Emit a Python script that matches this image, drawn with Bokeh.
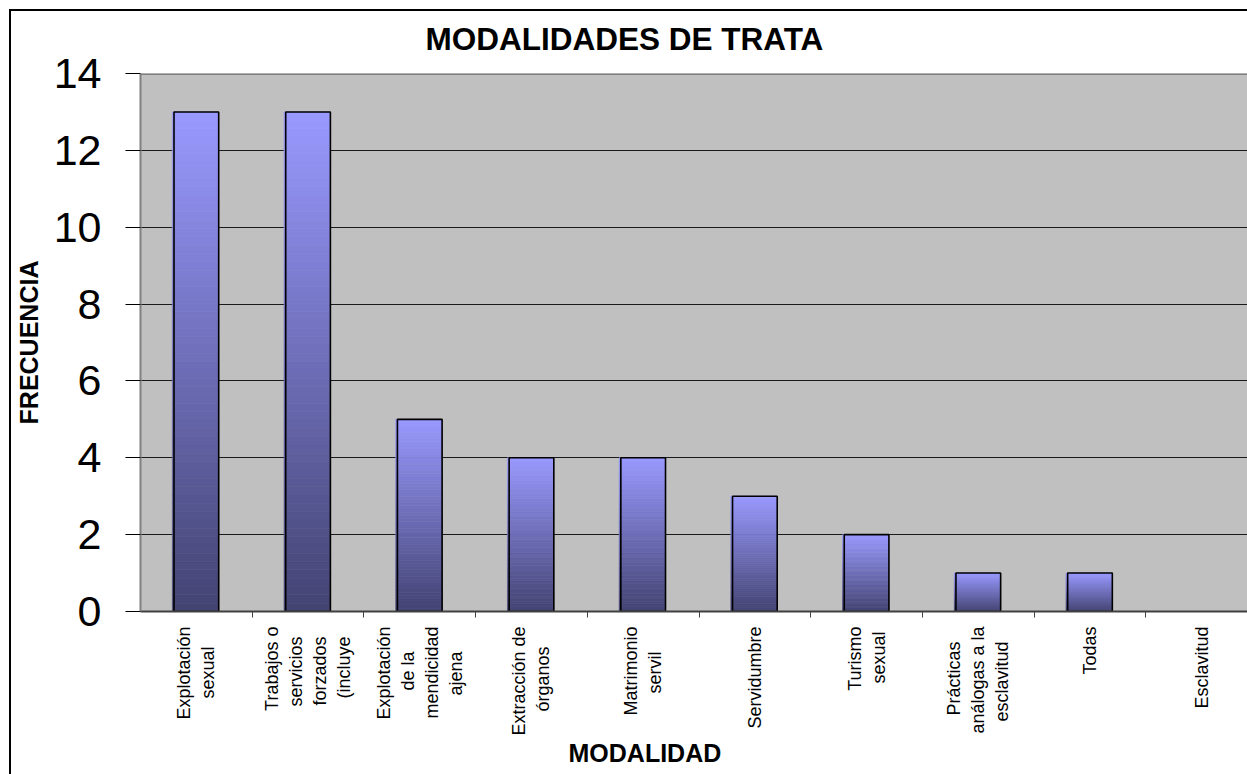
import math
from bokeh.plotting import figure
from bokeh.models import FixedTicker, Range1d, Title, ColumnDataSource, Span
from bokeh.embed import file_html
from bokeh.resources import INLINE

# ---- data ----
categories = [
    ["Explotación", "sexual"],
    ["Trabajos o", "servicios", "forzados", "(incluye"],
    ["Explotación", "de la", "mendicidad", "ajena"],
    ["Extracción de", "órganos"],
    ["Matrimonio", "servil"],
    ["Servidumbre"],
    ["Turismo", "sexual"],
    ["Prácticas", "análogas a la", "esclavitud"],
    ["Todas"],
    ["Esclavitud"],
]
frecuencia = [13, 13, 5, 4, 4, 3, 2, 1, 1, 0]
y_ticks = [0, 2, 4, 6, 8, 10, 12, 14]

# ---- styling ----
FONT = "Liberation Sans"
TOP_RGB = (0x99, 0x99, 0xFF)
BOT_RGB = (0x43, 0x43, 0x72)
N_SEG = 60
BAR_W = 0.4

# approximate Arial advance widths (em) used to centre wrapped lines
W = {c: 0.556 for c in "abdeghnopquáóé"}
W.update({c: 0.5 for c in "cksvxyz"})
W.update({"i": 0.222, "j": 0.222, "l": 0.222, "f": 0.278, "t": 0.278, "r": 0.333,
          "m": 0.833, " ": 0.278, "(": 0.333, "E": 0.667, "T": 0.611, "M": 0.833,
          "P": 0.667, "S": 0.667})
NBSP = "\u00a0"

def width(s):
    return sum(W.get(c, 0.556) for c in s)

def centred(lines):
    m = max(width(s) for s in lines)
    out = []
    for s in lines:
        n = int(round((m - width(s)) / 2 / 0.278))
        out.append(s + NBSP * n)
    return "\n".join(out)

positions = [i + 0.5 for i in range(len(categories))]
boundaries = [float(i) for i in range(1, len(categories))]

def mix(f):
    r = round(BOT_RGB[0] + (TOP_RGB[0] - BOT_RGB[0]) * f)
    g = round(BOT_RGB[1] + (TOP_RGB[1] - BOT_RGB[1]) * f)
    b = round(BOT_RGB[2] + (TOP_RGB[2] - BOT_RGB[2]) * f)
    return "#%02x%02x%02x" % (r, g, b)

gx, gb, gt, gc = [], [], [], []
for x, v in zip(positions, frecuencia):
    if v <= 0:
        continue
    for k in range(N_SEG):
        gx.append(x - 0.0075)
        gb.append(v * k / N_SEG)
        gt.append(v * (k + 1) / N_SEG)
        gc.append(mix((k + 0.5) / N_SEG))
grad = ColumnDataSource(dict(x=gx, bottom=gb, top=gt, color=gc))

ox = [x for x, v in zip(positions, frecuencia) if v > 0]
ov = [v for v in frecuencia if v > 0]
outline = ColumnDataSource(dict(x=ox, top=ov))

p = figure(
    width=1247, height=774,
    x_range=Range1d(0, 9.91), y_range=Range1d(0, 14),
    output_backend="svg", toolbar_location=None,
    min_border_left=140, min_border_top=73, min_border_bottom=163, min_border_right=0,
)
# chart-area border (left and top edges; the rest lies outside the view)
p.styles = {
    "background": "linear-gradient(#000, #000) 9px 9px / 2px 100% no-repeat, "
                  "linear-gradient(#000, #000) 9px 9px / 100% 2px no-repeat, #ffffff",
}
p.background_fill_color = "#C0C0C0"
p.border_fill_color = None
p.outline_line_color = None

p.title = Title(text="MODALIDADES DE TRATA", align="left", offset=285,
                text_font=FONT, text_font_size="31.5px", text_font_style="bold",
                text_color="black", standoff=34)

p.vbar(x="x", bottom="bottom", top="top", width=BAR_W + 0.015, source=grad,
       fill_color="color", line_color="color", line_width=0.6)
p.vbar(x="x", top="top", bottom=0, width=BAR_W, source=outline,
       fill_color=None, line_color="black", line_width=1.6)

p.add_layout(Span(location=14, dimension="width", line_color="#808080", line_width=3))

# grid
p.xgrid.visible = False
p.ygrid.ticker = FixedTicker(ticks=y_ticks[1:-1])
p.ygrid.grid_line_color = "#1a1a1a"
p.ygrid.grid_line_width = 1

# y axis
ya = p.yaxis[0]
ya.ticker = FixedTicker(ticks=y_ticks)
ya.major_label_text_font = FONT
ya.major_label_text_font_size = "43px"
ya.major_label_text_color = "black"
ya.major_tick_out = 15
ya.major_tick_in = 0
ya.minor_tick_out = 0
ya.minor_tick_in = 0
ya.major_tick_line_color = "black"
ya.axis_line_color = "#808080"
ya.axis_line_width = 2
ya.major_label_standoff = 24
ya.axis_label = "FRECUENCIA"
ya.axis_label_text_font = FONT
ya.axis_label_text_font_size = "25px"
ya.axis_label_text_font_style = "bold"
ya.axis_label_text_color = "black"
ya.axis_label_standoff = 8

# x axis
xa = p.xaxis[0]
xa.ticker = FixedTicker(ticks=positions, minor_ticks=boundaries)
xa.major_label_overrides = {pos: centred(lab) for pos, lab in zip(positions, categories)}
xa.major_label_orientation = math.pi / 2
xa.major_label_text_font = FONT
xa.major_label_text_font_size = "18px"
xa.major_label_text_color = "black"
xa.major_label_standoff = 9
xa.major_tick_out = 0
xa.major_tick_in = 0
xa.minor_tick_out = 6
xa.minor_tick_in = 0
xa.minor_tick_line_color = "#404040"
xa.axis_line_color = "#404040"
xa.axis_line_width = 2

p.add_layout(Title(text="MODALIDAD", align="left", offset=428, vertical_align="top",
                   text_font=FONT, text_font_size="25px", text_font_style="bold",
                   text_color="black", standoff=0), "below")

open("out.html", "w").write(file_html(p, INLINE))
